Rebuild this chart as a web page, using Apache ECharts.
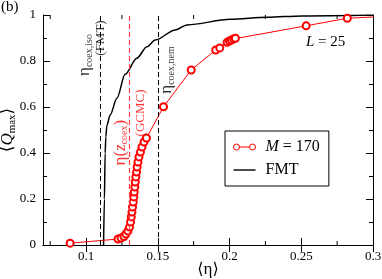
<!DOCTYPE html>
<html><head><meta charset="utf-8">
<script src="https://cdn.jsdelivr.net/npm/echarts@6/dist/echarts.min.js"></script>
<style>html,body{margin:0;padding:0;background:#fff}#c{width:382px;height:279px}</style>
</head><body><div id="c"></div>
<script>
// ---- data ----
const fmtEta = [0.1122, 0.1128, 0.1133, 0.1138, 0.1145, 0.1168, 0.1215, 0.1272, 0.1354, 0.1424, 0.1482, 0.1622, 0.1704, 0.2006, 0.2262, 0.2507, 0.3000];
const fmtQ   = [0.000, 0.200, 0.400, 0.470, 0.520, 0.565, 0.638, 0.742, 0.812, 0.862, 0.891, 0.935, 0.957, 0.981, 0.990, 0.996, 1.000];
const mEta = [0.0889, 0.1223, 0.1244, 0.1264, 0.1278, 0.1292, 0.1303, 0.1310, 0.1315, 0.1320, 0.1324, 0.1329, 0.1333, 0.1336, 0.1340, 0.1343, 0.1347, 0.1352, 0.1356, 0.1362, 0.1369, 0.1379, 0.1390, 0.1404, 0.1421, 0.1540, 0.1733, 0.1904, 0.1932, 0.1983, 0.1999, 0.2013, 0.2029, 0.2041, 0.2534, 0.2821, 0.3200];
const mQ   = [0.008, 0.026, 0.030, 0.037, 0.048, 0.061, 0.078, 0.100, 0.122, 0.143, 0.165, 0.187, 0.209, 0.230, 0.252, 0.274, 0.296, 0.317, 0.339, 0.361, 0.383, 0.404, 0.426, 0.448, 0.465, 0.601, 0.761, 0.848, 0.857, 0.881, 0.887, 0.891, 0.896, 0.899, 0.953, 0.986, 0.997];
const dashedBlack = [0.1063, 0.1489];   // eta_coex,iso (FMT), eta_coex,nem
const dashedRed = [0.1329];             // eta(z_coex) (GCMC)
const xTickLabels = [0.1, 0.15, 0.2, 0.25, 0.3];
const xMinorTicks = [0.075, 0.125, 0.175, 0.225, 0.275];
const seriesNames = ['M = 170', 'FMT'];

// annotation texts (placed in data coordinates)
const noteTexts = ['{m|η}{s|coex,iso}', '{p|(FMT)}', '{m|η(}{z|z}{s|coex}{m|)}', '{p|(GCMC)}', '{m|η}{s|coex,nem}'];
const notePos = [[0.0990, 0.826], [0.1104, 0.900], [0.1237, 0.445], [0.1383, 0.574], [0.1564, 0.761]];
const noteColors = ['#000', '#000', '#ff0000', '#ff0000', '#000'];

const F = "'Liberation Serif','DejaVu Serif',serif";
const chart = echarts.init(document.getElementById('c'), null, {renderer: 'canvas'});

const xBase = {
  type: 'value', min: 0.07, max: 0.3,
  axisLine: {lineStyle: {color: '#000', width: 1}},
  splitLine: {show: false},
  axisTick: {inside: true, length: 7, customValues: xTickLabels, lineStyle: {color: '#000'}},
};
const yBase = {
  type: 'value', min: 0, max: 1, interval: 0.2,
  axisLine: {lineStyle: {color: '#000', width: 1}},
  splitLine: {show: false},
  axisTick: {inside: true, length: 7, lineStyle: {color: '#000'}},
  minorTick: {show: true, splitNumber: 2, length: 4, lineStyle: {color: '#000'}},
};

const option = {
  animation: false,
  backgroundColor: '#fff',
  grid: {left: 43, right: 9, top: 15, bottom: 34, outerBoundsMode: 'none', containLabel: false},
  xAxis: [
    Object.assign({}, xBase, {
      position: 'bottom',
      name: '{a|⟨}{e|η}{a|⟩}', nameLocation: 'middle', nameGap: 16, nameMoveOverlap: false,
      nameTextStyle: {rich: {a: {fontFamily: F, fontSize: 16, color: '#000'}, e: {fontFamily: F, fontSize: 17, color: '#000'}}},
      axisLabel: {customValues: xTickLabels, margin: 5, fontFamily: F, fontSize: 13, color: '#000',
        formatter: v => String(+(+v).toFixed(3))}
    }),
    Object.assign({}, xBase, {position: 'top', axisLabel: {show: false}})
  ],
  yAxis: [
    Object.assign({}, yBase, {
      position: 'left',
      name: '{a|⟨}{q|Q}{s|max}{a|⟩}', nameLocation: 'middle', nameGap: 25, nameMoveOverlap: false,
      nameTextStyle: {rich: {
        a: {fontFamily: F, fontSize: 17, color: '#000'},
        q: {fontFamily: F, fontSize: 17, fontStyle: 'italic', color: '#000'},
        s: {fontFamily: F, fontSize: 11, color: '#000', padding: [9, 0, 0, 0]}
      }},
      axisLabel: {margin: 7, fontFamily: F, fontSize: 13, color: '#000'}
    }),
    Object.assign({}, yBase, {position: 'right', axisLabel: {show: false}})
  ],
  legend: {
    orient: 'vertical', left: 225, top: 131,
    data: [
      {name: seriesNames[0], icon: 'path://M0,3A3,3 0 1,1 6,3A3,3 0 1,1 0,3ZM6,3L16,3M16,3A3,3 0 1,1 22,3A3,3 0 1,1 16,3Z',
       itemStyle: {color: '#fff', borderColor: '#ff0000', borderWidth: 1}},
      {name: seriesNames[1], icon: 'path://M0,0H22V1.4H0Z', itemStyle: {color: '#000', borderWidth: 0}}
    ],
    itemWidth: 22, itemHeight: 14, itemGap: 7, symbolKeepAspect: true,
    padding: [8, 9, 8, 8],
    borderColor: '#000', borderWidth: 1, borderRadius: 0,
    textStyle: {fontFamily: F, fontSize: 16, color: '#000', lineHeight: 16, padding: [0, 0, 0, 5],
      rich: {i: {fontFamily: F, fontSize: 16, fontStyle: 'italic', color: '#000'}}},
    formatter: n => n === 'M = 170' ? '{i|M} = 170' : n
  },
  series: [
    {
      name: seriesNames[0], type: 'line', xAxisIndex: 0, yAxisIndex: 0,
      data: mEta.map((v, i) => [v, mQ[i]]),
      symbol: 'emptyCircle', symbolSize: 7, showAllSymbol: true, clip: true,
      lineStyle: {color: '#ff0000', width: 1},
      itemStyle: {color: '#ff0000', borderColor: '#ff0000', borderWidth: 1},
      z: 3,
      markLine: {
        silent: true, symbol: 'none', label: {show: false},
        lineStyle: {color: '#ff4040', width: 1.2, type: [5, 3]},
        data: dashedRed.map(v => ({xAxis: v}))
      }
    },
    {
      name: seriesNames[1], type: 'line', xAxisIndex: 0, yAxisIndex: 0,
      data: fmtEta.map((v, i) => [v, fmtQ[i]]),
      symbol: 'none', smooth: 0.3, smoothMonotone: 'x',
      lineStyle: {color: '#000', width: 1.5},
      itemStyle: {color: '#000'},
      z: 2,
      markLine: {
        silent: true, symbol: 'none', label: {show: false},
        lineStyle: {color: '#000', width: 1, type: [5, 3]},
        data: dashedBlack.map(v => ({xAxis: v}))
      }
    },
    {
      name: 'minorTicks', type: 'custom', xAxisIndex: 0, yAxisIndex: 0, silent: true, clip: false,
      data: xMinorTicks.map(v => [v, 0]),
      renderItem: function (params, api) {
        const x = api.value(0);
        const b = api.coord([x, 0]);
        const t = api.coord([x, 1]);
        return {type: 'group', children: [
          {type: 'line', shape: {x1: b[0], y1: b[1], x2: b[0], y2: b[1] - 4}, style: {stroke: '#000', lineWidth: 1}},
          {type: 'line', shape: {x1: t[0], y1: t[1], x2: t[0], y2: t[1] + 4}, style: {stroke: '#000', lineWidth: 1}}
        ]};
      }
    },
    {
      name: 'notes', type: 'scatter', xAxisIndex: 0, yAxisIndex: 0, silent: true, z: 5,
      symbolSize: 1, itemStyle: {color: 'rgba(0,0,0,0)'},
      data: notePos.map((p, i) => ({
        value: p,
        label: {formatter: noteTexts[i], color: noteColors[i]}
      })),
      label: {
        show: true, position: 'inside', rotate: 90, align: 'center', verticalAlign: 'middle',
        rich: {
          m: {fontFamily: F, fontSize: 17},
          z: {fontFamily: F, fontSize: 17, fontStyle: 'italic'},
          s: {fontFamily: F, fontSize: 10, padding: [9, 0, 0, 0]},
          p: {fontFamily: F, fontSize: 13}
        }
      },
      labelLayout: {hideOverlap: false}
    }
  ],
  graphic: [
    {type: 'text', left: 1, top: 0, style: {text: '(b)', font: '15px ' + F, fill: '#000'}},
    {type: 'text', left: 306, top: 35, style: {
      text: '{i|L} = 25', font: '15px ' + F, fill: '#000',
      rich: {i: {fontStyle: 'italic', fontFamily: F, fontSize: 15}}
    }}
  ]
};
chart.setOption(option);
</script>
</body></html>
